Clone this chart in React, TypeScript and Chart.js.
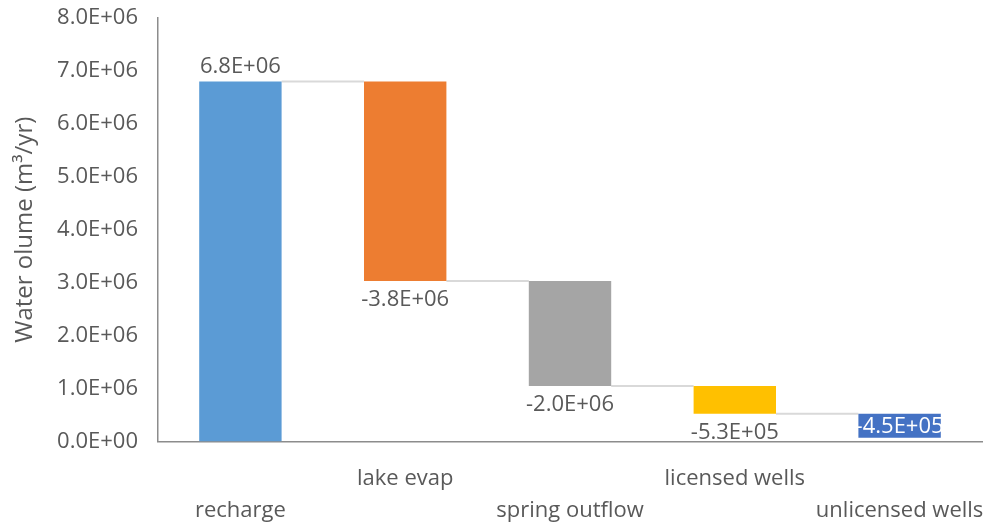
import React, { useEffect, useRef } from "react";
import { Chart, registerables } from "chart.js";

Chart.register(...registerables);

const categories: string[][] = [
  ["", "recharge"],
  ["lake evap", ""],
  ["", "spring outflow"],
  ["licensed wells", ""],
  ["", "unlicensed wells"],
];
const deltas: number[] = [6.8e6, -3.77e6, -1.98e6, -5.27e5, -4.5e5];
const barColors: string[] = ["#5B9BD5", "#ED7D31", "#A5A5A5", "#FFC000", "#4472C4"];
const yMin = 0;
const yMax = 8e6;
const yStep = 1e6;

const FONT = "'Open Sans', 'Noto Sans', sans-serif";
const TEXT = "#595959";
const FS = 22;

function fmt(v: number): string {
  const [m, e] = v.toExponential(1).split("e");
  const n = parseInt(e, 10);
  return m + "E" + (n < 0 ? "-" : "+") + String(Math.abs(n)).padStart(2, "0");
}

export default function App() {
  const ref = useRef<HTMLCanvasElement | null>(null);
  useEffect(() => {
    document.body.style.margin = "0";
    const cum: number[] = [];
    let run = 0;
    const ranges = deltas.map((d) => {
      const start = run;
      run += d;
      cum.push(run);
      return [start, run];
    });

    const wfPlugin = {
      id: "wf",
      beforeDatasetsDraw(chart: any) {
        const ctx = chart.ctx;
        const meta = chart.getDatasetMeta(0);
        const ys = chart.scales.y;
        ctx.save();
        ctx.strokeStyle = "#D9D9D9";
        ctx.lineWidth = 2;
        for (let i = 0; i < meta.data.length - 1; i++) {
          const a = meta.data[i];
          const b = meta.data[i + 1];
          const py = ys.getPixelForValue(cum[i]);
          ctx.beginPath();
          ctx.moveTo(a.x + a.width / 2, py);
          ctx.lineTo(b.x - b.width / 2, py);
          ctx.stroke();
        }
        ctx.restore();
      },
      afterDatasetsDraw(chart: any) {
        const ctx = chart.ctx;
        const meta = chart.getDatasetMeta(0);
        const area = chart.chartArea;
        ctx.save();
        ctx.font = `${FS}px ${FONT}`;
        ctx.textAlign = "center";
        ctx.textBaseline = "middle";
        meta.data.forEach((el: any, i: number) => {
          const top = Math.min(el.y, el.base);
          const bot = Math.max(el.y, el.base);
          const txt = fmt(deltas[i]);
          if (deltas[i] >= 0) {
            ctx.fillStyle = TEXT;
            ctx.fillText(txt, el.x, top - 15);
          } else if (bot + 20 > area.bottom) {
            ctx.fillStyle = "#FFFFFF";
            ctx.fillText(txt, el.x, (top + bot) / 2 + 1);
          } else {
            ctx.fillStyle = TEXT;
            ctx.fillText(txt, el.x, bot + 18.5);
          }
        });
        ctx.restore();
      },
    };

    const chart = new Chart(ref.current as HTMLCanvasElement, {
      type: "bar",
      data: {
        labels: categories as any,
        datasets: [
          {
            data: ranges as any,
            backgroundColor: barColors,
            borderWidth: 0,
            barPercentage: 1,
            categoryPercentage: 0.5,
          },
        ],
      },
      options: {
        responsive: false,
        animation: false,
        layout: { padding: { top: 18, right: 5, left: 0, bottom: 0 } },
        plugins: { legend: { display: false }, tooltip: { enabled: false } },
        scales: {
          x: {
            afterFit: (s: any) => {
              s.height = 81.5;
              s.paddingLeft = 0;
              s.paddingRight = 0;
            },
            grid: { display: false, drawTicks: false },
            border: { display: true, color: "#8C8C8C", width: 1.5 },
            ticks: {
              autoSkip: false,
              maxRotation: 0,
              minRotation: 0,
              padding: 21.5,
              color: TEXT,
              font: { family: FONT, size: FS, lineHeight: 32 / FS },
            },
          },
          y: {
            min: yMin,
            max: yMax,
            afterFit: (s: any) => {
              s.width = 158;
              s.paddingTop = 0;
              s.paddingBottom = 0;
            },
            grid: { display: false, drawTicks: false },
            border: { display: true, color: "#8C8C8C", width: 1.5 },
            ticks: {
              stepSize: yStep,
              padding: 20,
              color: TEXT,
              font: { family: FONT, size: FS },
              callback: (v: any) => fmt(Number(v)),
            },
            title: {
              display: true,
              text: "Water olume (m³/yr)",
              color: TEXT,
              font: { family: FONT, size: 24, lineHeight: 1.2 },
              padding: { top: 10.5, bottom: 0 },
            },
          },
        },
      },
      plugins: [wfPlugin],
    });
    return () => chart.destroy();
  }, []);

  return (
    <div style={{ width: 987, height: 523 }}>
      <canvas ref={ref} width={987} height={523} />
    </div>
  );
}
